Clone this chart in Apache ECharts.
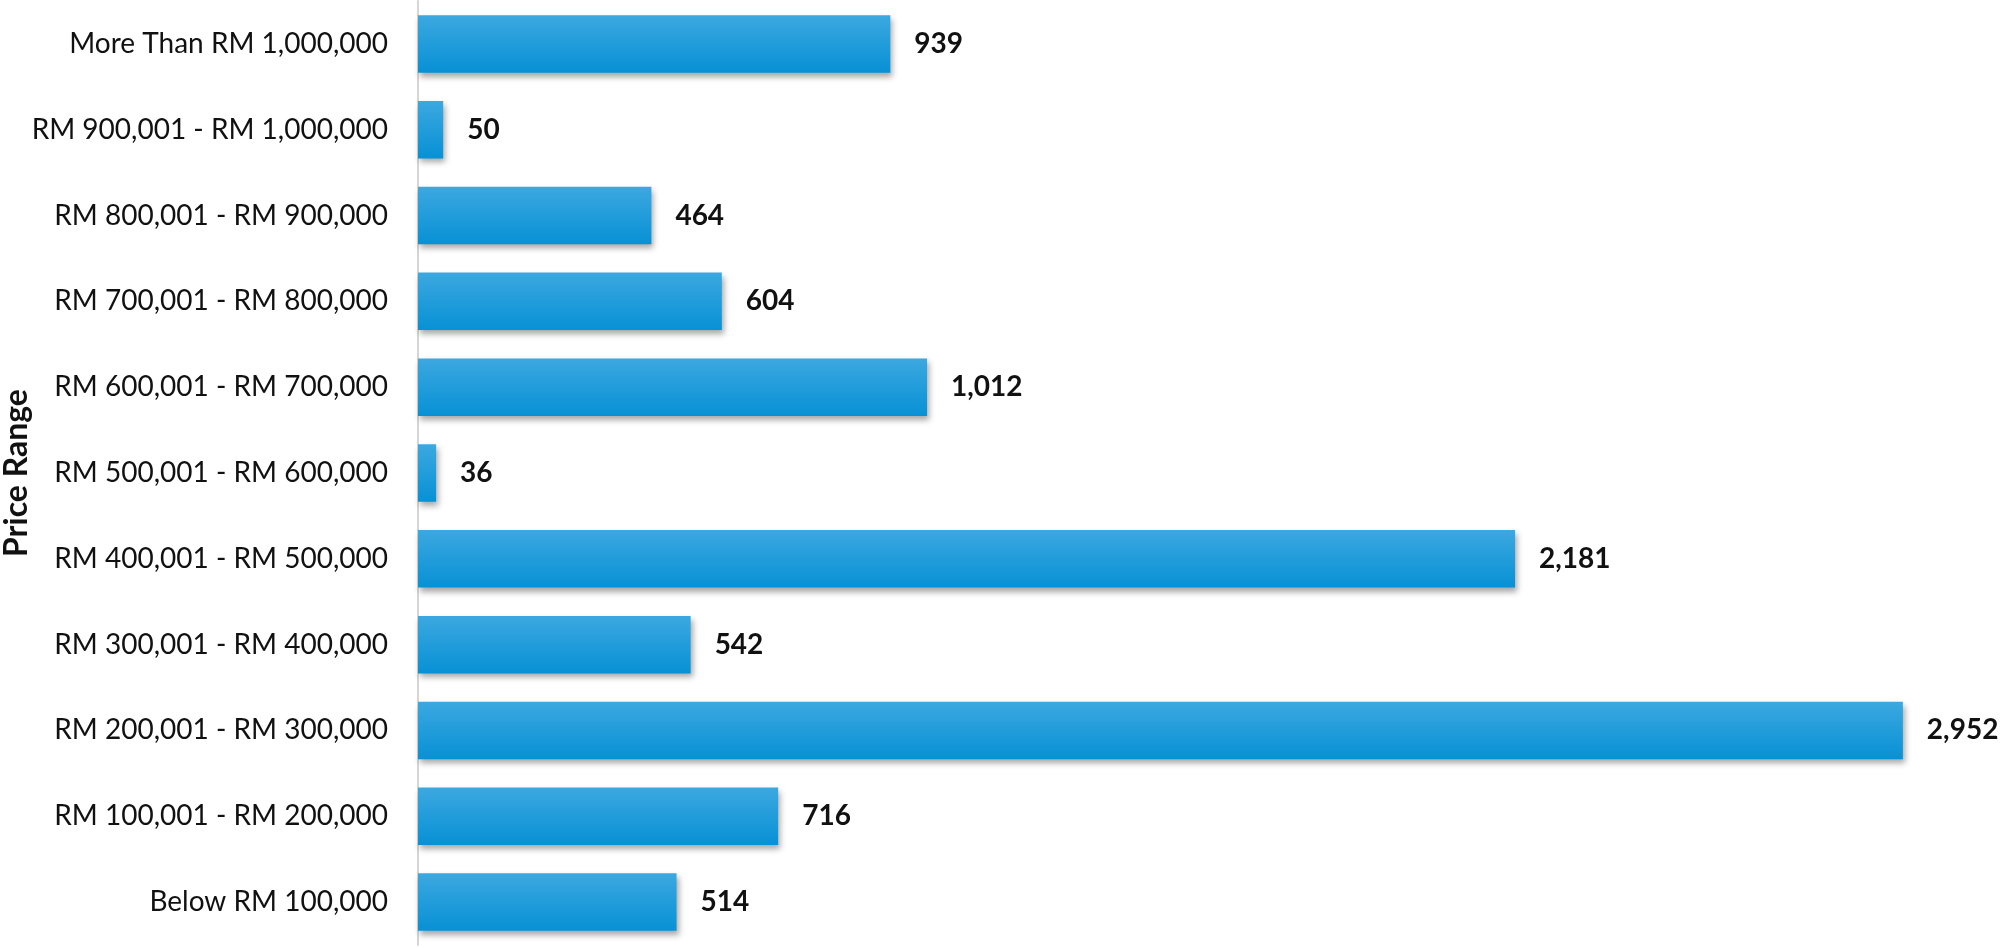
<!DOCTYPE html>
<html><head><meta charset="utf-8">
<script src="https://cdn.jsdelivr.net/npm/echarts@6/dist/echarts.min.js"></script>
<style>html,body{margin:0;padding:0;background:#fff}#c{width:2000px;height:948px}</style>
</head><body><div id="c"></div>
<script>
const categories = [
  "Below RM 100,000",
  "RM 100,001 - RM 200,000",
  "RM 200,001 - RM 300,000",
  "RM 300,001 - RM 400,000",
  "RM 400,001 - RM 500,000",
  "RM 500,001 - RM 600,000",
  "RM 600,001 - RM 700,000",
  "RM 700,001 - RM 800,000",
  "RM 800,001 - RM 900,000",
  "RM 900,001 - RM 1,000,000",
  "More Than RM 1,000,000"
];
const values = [514, 716, 2952, 542, 2181, 36, 1012, 604, 464, 50, 939];
const axisName = "Price Range";

const chart = echarts.init(document.getElementById('c'));
chart.setOption({
  animation: false,
  backgroundColor: '#fff',
  grid: { left: 418, right: 73, top: 1, bottom: 3, containLabel: false, outerBoundsMode: 'none' },
  xAxis: {
    type: 'value', min: 0, max: 3000,
    show: false
  },
  yAxis: {
    type: 'category', data: categories,
    name: axisName, nameLocation: 'middle', nameGap: 385, nameMoveOverlap: false,
    nameTextStyle: { fontFamily: 'Lato', fontWeight: 'bold', fontSize: 32, color: '#111' },
    axisLine: { show: true, lineStyle: { color: '#d6d6d6', width: 2 } },
    axisTick: { show: false },
    axisLabel: { fontFamily: 'Lato', fontSize: 28, color: '#111', margin: 30 }
  },
  series: [{
    type: 'bar', data: values, barCategoryGap: '33%',
    itemStyle: {
      color: new echarts.graphic.LinearGradient(0, 0, 0, 1, [
        { offset: 0, color: '#3ca8e0' },
        { offset: 1, color: '#0791d5' }
      ]),
      shadowColor: 'rgba(0,0,0,0.35)', shadowBlur: 6, shadowOffsetX: 2, shadowOffsetY: 4
    },
    label: {
      show: true, position: 'right', distance: 24,
      fontFamily: 'Lato', fontWeight: 'bold', fontSize: 28, color: '#111',
      formatter: p => p.value.toLocaleString('en-US')
    }
  }]
});
</script></body></html>
